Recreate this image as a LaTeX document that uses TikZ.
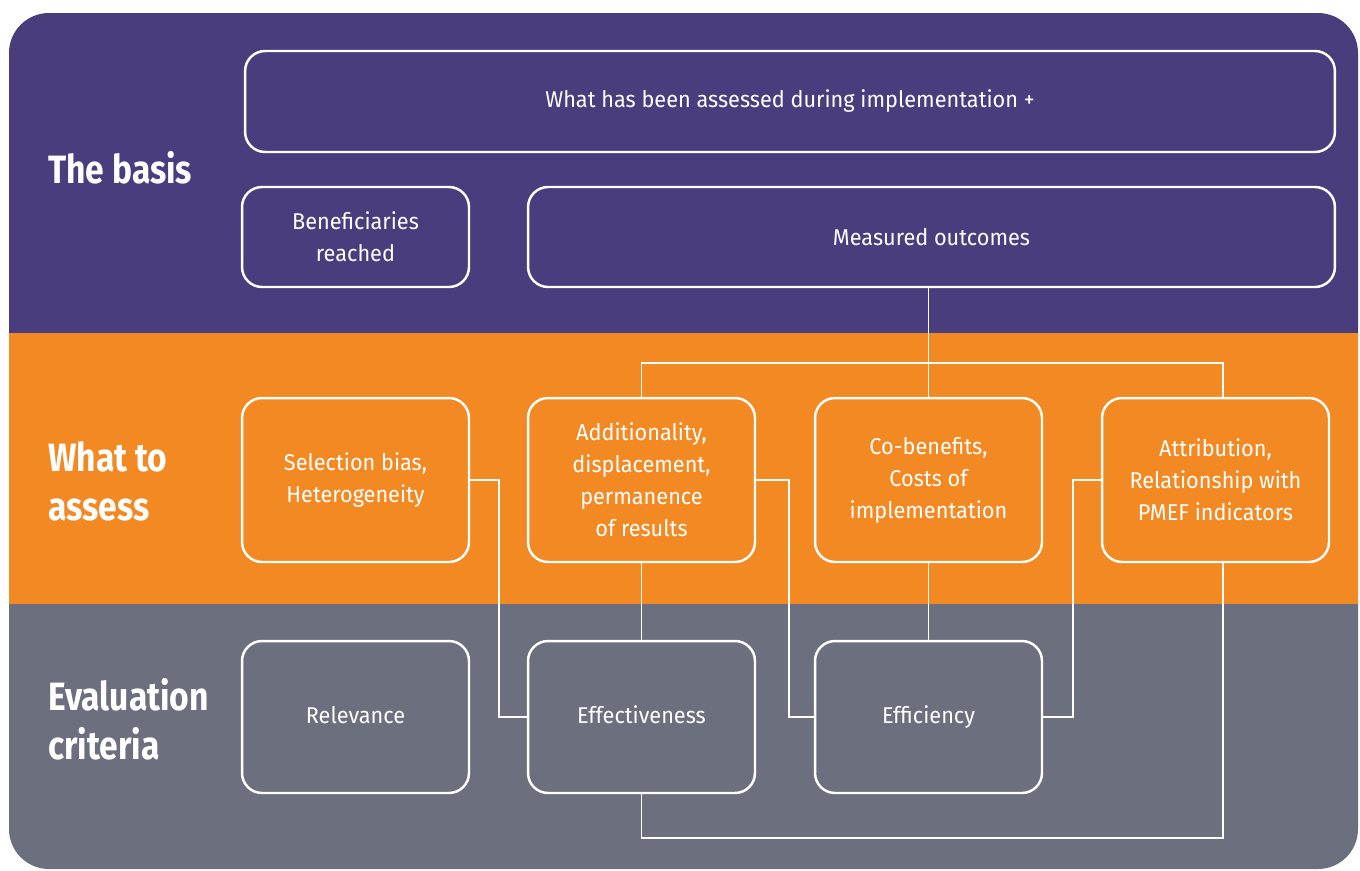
\documentclass[tikz,border=0pt]{standalone}
\usepackage{fontspec}
\setmainfont[FakeStretch=0.95]{Fira Sans}
\newfontfamily\bandfont[FakeStretch=0.85]{Fira Sans Bold}
\usepackage{tikz}
\usetikzlibrary{positioning}

\definecolor{basispurple}{RGB}{74,61,126}
\definecolor{assessorange}{RGB}{242,137,34}
\definecolor{criteriagray}{RGB}{108,111,126}

\begin{document}
\begin{tikzpicture}[x=0.02cm, y=-0.02cm,
  card/.style={draw=white, line width=1.4pt, rounded corners=0.4cm,
               text=white, align=center, inner sep=0cm,
               font=\fontsize{13}{18.2}\selectfont},
  band/.style={text=white, anchor=west, align=left, inner sep=0cm,
               font=\bandfont\fontsize{22.5}{27.9}\selectfont},
  link/.style={draw=white, line width=1.1pt}]

\useasboundingbox (0,0) rectangle (1360,870);

% coloured bands
\begin{scope}
\clip[rounded corners=0.8cm] (9,13) rectangle (1358,869);
\fill[basispurple] (0,0) rectangle (1360,333);
\fill[assessorange] (0,333) rectangle (1360,604);
\fill[criteriagray] (0,604) rectangle (1360,870);
\end{scope}

% row titles
\node[band] (basis) at (48,168) {The basis};
\node[band] (whatto) at (48,481) {What to\\assess};
\node[band] (criteria) at (48,719) {Evaluation\\criteria};

% the basis
\node[card, minimum width=21.8cm, minimum height=2.02cm] (assessed) at (790,101.5)
  {What has been assessed during implementation +};
\node[card, minimum width=4.54cm, minimum height=2cm] (reached) at (355.5,237)
  {Beneficiaries\\reached};
\node[card, minimum width=16.14cm, minimum height=2cm] (outcomes) at (931.5,237)
  {Measured outcomes};

% what to assess
\node[card, minimum width=4.54cm, minimum height=3.28cm] (selection) at (355.5,480)
  {Selection bias,\\Heterogeneity};
\node[card, minimum width=4.54cm, minimum height=3.28cm] (additionality) at (641.5,480)
  {Additionality,\\displacement,\\permanence\\of results};
\node[card, minimum width=4.54cm, minimum height=3.28cm] (cobenefits) at (928.5,480)
  {Co-benefits,\\Costs of\\implementation};
\node[card, minimum width=4.54cm, minimum height=3.28cm] (attribution) at (1215.5,480)
  {Attribution,\\Relationship with\\PMEF indicators};

% evaluation criteria
\node[card, minimum width=4.54cm, minimum height=3.04cm] (relevance) at (355.5,717)
  {Relevance\vphantom{y}};
\node[card, minimum width=4.54cm, minimum height=3.04cm] (effectiveness) at (641.5,717)
  {Effectiveness\vphantom{y}};
\node[card, minimum width=4.54cm, minimum height=3.04cm] (efficiency) at (928.5,717)
  {Efficiency};

% connectors
\coordinate (split) at (929,363);
\draw[link] (cobenefits.north |- outcomes.south) -- (cobenefits.north);
\draw[link] (additionality.north) |- (split) -| ([xshift=0.15cm]attribution.north);
\draw[link] (selection.east) -- ++(29,0) |- (effectiveness.west);
\draw[link] (additionality.south) -- (effectiveness.north);
\draw[link] (additionality.east) -- ++(33,0) |- (efficiency.west);
\draw[link] (cobenefits.south) -- (efficiency.north);
\draw[link] (efficiency.east) -- ++(30,0) |- (attribution.west);
\draw[link] ([xshift=0.15cm]attribution.south) -- ++(0,275) -| (effectiveness.south);
\end{tikzpicture}
\end{document}
